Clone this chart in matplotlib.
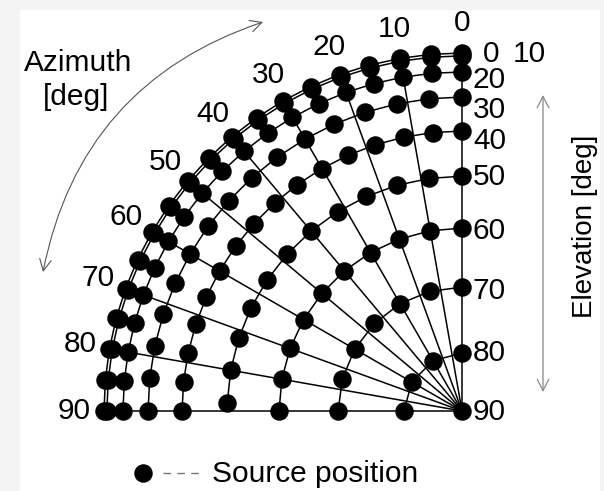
import numpy as np
import matplotlib
matplotlib.use("Agg")
import matplotlib.pyplot as plt
from matplotlib.patches import FancyArrowPatch, Rectangle

# ---------------- data ----------------
elevations = [0, 10, 20, 30, 40, 50, 60, 70, 80, 90]
# projected radius of each elevation ring (fraction of the outer ring)
ring_radius = [1.0, 0.992, 0.947, 0.877, 0.782, 0.656, 0.511, 0.346, 0.162, 0.0]
az_el0 = [0, 5, 10, 15, 20, 25, 30, 35, 40, 45, 50, 55, 60, 65, 70, 75, 80, 85, 90]
az_el10 = [0, 5, 10, 15, 20, 25, 30, 35, 40, 45, 50, 55, 60, 65, 70, 75, 80, 85, 90]
az_el20 = [0, 5, 10, 15, 20, 25, 30, 35, 40, 45, 50, 55, 60, 65, 70, 75, 80, 85, 90]
az_el30 = [0, 6, 12, 18, 24, 30, 36, 42, 48, 54, 60, 66, 72, 78, 84, 90]
az_el40 = [0, 6, 12, 18, 24, 30, 36, 42, 48, 54, 60, 66, 72, 78, 84, 90]
az_el50 = [0, 8, 16, 24, 32, 40, 48, 56, 64, 72, 80, 88]
az_el60 = [0, 10, 20, 30, 40, 50, 60, 70, 80, 90]
az_el70 = [0, 15, 30, 45, 60, 75, 90]
az_el80 = [0, 30, 60, 90]
az_el90 = [0]
ring_azimuths = [az_el0, az_el10, az_el20, az_el30, az_el40,
                 az_el50, az_el60, az_el70, az_el80, az_el90]
azimuth_lines = [0, 10, 20, 30, 40, 50, 60, 70, 80, 90]
azimuth_labels = ["0", "10", "20", "30", "40", "50", "60", "70", "80", "90"]
elevation_labels = ["0", "10", "20", "30", "40", "50", "60", "70", "80", "90"]

# ---------------- layout ----------------
W, H = 604, 491
CX, CY, R = 462, 411, 358
FONT = "Liberation Sans"
plt.rcParams["font.family"] = [FONT, "DejaVu Sans"]
FS = 21.5

fig = plt.figure(figsize=(W / 100, H / 100), dpi=100, facecolor="#f4f4f4")
ax = fig.add_axes([0, 0, 1, 1])
ax.set_xlim(0, W)
ax.set_ylim(H, 0)
ax.axis("off")
ax.add_patch(Rectangle((20, 10), 580, 481, facecolor="white", edgecolor="none", zorder=0))


def proj(az, rfrac):
    az = np.radians(np.asarray(az, dtype=float))
    r = R * rfrac
    return CX - r * np.sin(az), CY - r * np.cos(az)


# radial azimuth lines
for az in azimuth_lines:
    x0, y0 = proj(az, ring_radius[0])
    ax.plot([x0, CX], [y0, CY], color="black", lw=1.1, zorder=1)

# elevation rings with source positions
for rf, azs in zip(ring_radius, ring_azimuths):
    xs, ys = proj(azs, rf)
    ax.plot(xs, ys, color="black", lw=1.1, marker="o", ms=12.3,
            mfc="black", mec="black", zorder=2)

# azimuth labels
for az, lab in zip(azimuth_lines, azimuth_labels):
    a = np.radians(az)
    rl = R * 1.083
    ax.text(CX - rl * np.sin(a), CY - rl * np.cos(a), lab, fontsize=FS,
            ha="center", va="center")

# elevation labels (right side)
label_dy = [0, 0, 8, 13, 10, 1, 3, 4, 0, 1]
for rf, lab, dy in zip(ring_radius, elevation_labels, label_dy):
    x, y = proj(0, rf)
    if lab == "0":
        ax.text(483, 54, lab, fontsize=FS, ha="left", va="center")
    elif lab == "10":
        ax.text(513, 54, lab, fontsize=FS, ha="left", va="center")
    else:
        ax.text(473, y + dy, lab, fontsize=FS, ha="left", va="center")

# axis titles
ax.text(78, 63, "Azimuth", fontsize=FS, ha="center", va="center")
ax.text(76, 97, "[deg]", fontsize=FS, ha="center", va="center")
ax.text(585, 226, "Elevation [deg]", fontsize=20, rotation=90,
        ha="center", va="center")

# arrows
ax.add_patch(FancyArrowPatch((543, 95), (543, 392),
                             arrowstyle="<->,head_length=0.55,head_width=0.28",
                             mutation_scale=15, color="#8a8a8a", lw=0.9,
                             shrinkA=0, shrinkB=0))
ax.add_patch(FancyArrowPatch((263, 22), (43, 272),
                             connectionstyle="arc3,rad=0.29",
                             arrowstyle="<->,head_length=0.55,head_width=0.28",
                             mutation_scale=15, color="#555555", lw=0.8,
                             shrinkA=0, shrinkB=0))

# legend
ax.plot([143], [473], "o", ms=12.3, color="black")
ax.plot([163, 204], [473, 473], color="#777777", lw=1.0, dashes=(5.5, 4.5))
ax.text(212, 474, "Source position", fontsize=FS, ha="left", va="center")

fig.savefig("out.png", dpi=100, facecolor=fig.get_facecolor())
